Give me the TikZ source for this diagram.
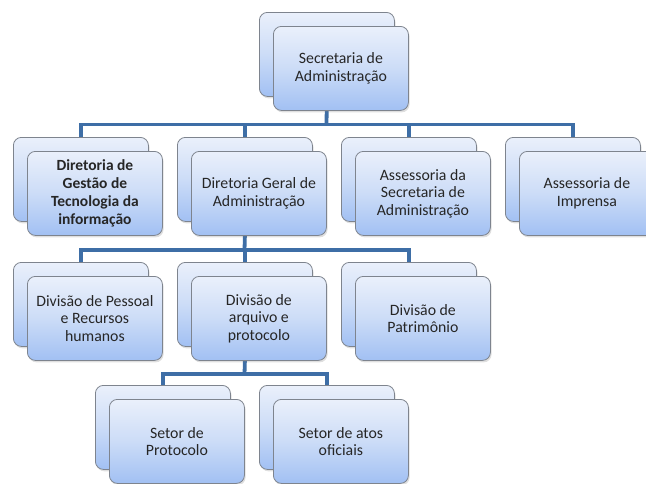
\documentclass[tikz,border=0pt]{standalone}
\usepackage{fontspec}
\setmainfont{Carlito}
\usetikzlibrary{shadows,backgrounds}
\definecolor{boxtop}{HTML}{EAF0FB}
\definecolor{boxmid}{HTML}{CCDCF7}
\definecolor{boxbot}{HTML}{A2C0F3}
\definecolor{boxline}{HTML}{7E848E}
\definecolor{connblue}{HTML}{3E6EA6}
\definecolor{txt}{HTML}{262626}
\tikzset{
  orgbox/.style={draw=boxline, line width=0.8pt, rounded corners=8pt,
    top color=boxtop, bottom color=boxbot, middle color=boxmid,
    minimum width=135pt, minimum height=84pt, anchor=north west,
    drop shadow={opacity=0.25, shadow xshift=1.2pt, shadow yshift=-2pt},
    text=txt, align=center, inner sep=1pt,
    font=\fontsize{15.8}{17.5}\selectfont},
  conn/.style={draw=connblue, line width=3.8pt, line cap=butt}
}
\begin{document}
\begin{tikzpicture}[x=1pt,y=-1pt]
\useasboundingbox (0,0) rectangle (646,483);
% level 1
\node[orgbox] (b0) at (259,12) {};
\node[orgbox] (f0) at (273,26) {Secretaria de\\Administração};
% level 2
\node[orgbox] (b21) at (13,137) {};
\node[orgbox, font=\fontsize{15.5}{18}\selectfont\bfseries] (f21) at (27,151) {Diretoria de\\Gestão de\\Tecnologia da\\informação};
\node[orgbox] (b22) at (177,137) {};
\node[orgbox] (f22) at (191,151) {Diretoria Geral de\\Administração};
\node[orgbox] (b23) at (341,137) {};
\node[orgbox] (f23) at (355,151) {Assessoria da\\Secretaria de\\Administração};
\node[orgbox] (b24) at (505,137) {};
\node[orgbox] (f24) at (519,151) {Assessoria de\\Imprensa};
% level 3
\node[orgbox] (b31) at (13,262) {};
\node[orgbox] (f31) at (27,276) {Divisão de Pessoal\\e Recursos\\humanos};
\node[orgbox] (b32) at (177,262) {};
\node[orgbox] (f32) at (191,276) {Divisão de\\arquivo e\\protocolo};
\node[orgbox] (b33) at (341,262) {};
\node[orgbox] (f33) at (355,276) {Divisão de\\Patrimônio};
% level 4
\node[orgbox] (b41) at (95,385) {};
\node[orgbox] (f41) at (109,399) {Setor de\\Protocolo};
\node[orgbox] (b42) at (259,385) {};
\node[orgbox] (f42) at (273,399) {Setor de atos\\oficiais};
% junctions
\coordinate (j1) at (326.5,124.5);
\coordinate (j2) at (244.5,250);
\coordinate (j3) at (244.5,374);
\begin{scope}[on background layer]
\draw[conn] (b0.south) -- (j1);
\draw[conn] (j1) -| (b21.north);
\draw[conn] (j1) -| (b22.north);
\draw[conn] (j1) -| (b23.north);
\draw[conn] (j1) -| (b24.north);
\draw[conn] (f22.south -| b22.south) -- (j2);
\draw[conn] (j2) -| (b31.north);
\draw[conn] (j2) -| (b32.north);
\draw[conn] (j2) -| (b33.north);
\draw[conn] (f32.south -| b32.south) -- (j3);
\draw[conn] (j3) -| (b41.north);
\draw[conn] (j3) -| (b42.north);
\end{scope}
\end{tikzpicture}
\end{document}
